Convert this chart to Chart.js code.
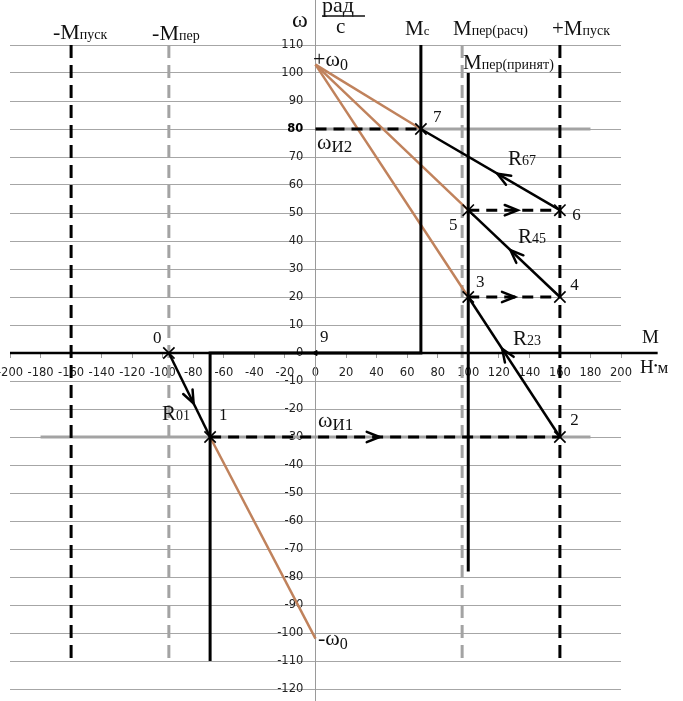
<!DOCTYPE html>
<html lang="ru">
<head>
<meta charset="UTF-8">
<title>Механические характеристики — торможение и реверс</title>
<script src="https://cdn.jsdelivr.net/npm/chart.js"></script>
<style>
  html, body { margin: 0; padding: 0; background: #fff; }
  #wrap { width: 683px; height: 701px; position: relative; }
</style>
</head>
<body>
<div id="wrap"><canvas id="chart"></canvas></div>
<script>
// деления осей
const mTicks = [-200, -180, -160, -140, -120, -100, -80, -60, -40, -20, 0, 20, 40, 60, 80, 100, 120, 140, 160, 180, 200];
const wTicks = [-120, -110, -100, -90, -80, -70, -60, -50, -40, -30, -20, -10, 0, 10, 20, 30, 40, 50, 60, 70, 80, 90, 100, 110];

// характерные значения, Н*м и рад/с
const w0plus = 103, w0minus = -102;
const Mpusk = 160, Mper = 96, MperPrin = 100, Mc = 69;
const wI1 = -30, wI2 = 80;
const limTop = 110, limBottom = -110, prinBottom = -78;
const axisM = [-200, 224];
const axisW = [130, -130];

// точки 0..7
const ptName = ['0', '1', '2', '3', '4', '5', '6', '7'];
const ptM = [-96, -69, 160, 100, 160, 100, 160, 69];
const ptW = [0, -30, -30, 20, 20, 51, 51, 80];

const P = i => ({ x: ptM[i], y: ptW[i] });

const BLACK = '#000';
const BROWN = '#c0825c';
const GRAY = '#a3a3a3';

function seg(points, color, width, dash, extra) {
  return Object.assign({
    data: points,
    showLine: true,
    borderColor: color,
    borderWidth: width,
    borderDash: dash || [],
    pointRadius: 0,
    pointHoverRadius: 0,
    fill: false
  }, extra || {});
}

// порядок: снизу вверх
const layers = [
  // серые линии на уровнях ωИ1, ωИ2
  seg([{ x: -180, y: wI1 }, { x: 180, y: wI1 }], GRAY, 3),
  seg([{ x: 0, y: wI2 }, { x: 180, y: wI2 }], GRAY, 3),
  // ось ω
  seg([{ x: 0, y: axisW[0] }, { x: 0, y: axisW[1] }], '#9a9a9a', 1, null, { clip: false }),
  // ±Mпер (расч)
  seg([{ x: -Mper, y: limTop }, { x: -Mper, y: limBottom }], GRAY, 3, [13, 7]),
  seg([{ x: Mper, y: limTop }, { x: Mper, y: limBottom }], GRAY, 3, [13, 7]),
  // ±Mпуск
  seg([{ x: -Mpusk, y: limTop }, { x: -Mpusk, y: limBottom }], BLACK, 3, [13, 7]),
  seg([{ x: Mpusk, y: limTop }, { x: Mpusk, y: limBottom }], BLACK, 3, [13, 7]),
  // реостатные характеристики
  seg([{ x: 0, y: w0plus }, P(7)], BROWN, 2.5),
  seg([{ x: 0, y: w0plus }, P(5)], BROWN, 2.5),
  seg([{ x: 0, y: w0plus }, P(3)], BROWN, 2.5),
  seg([P(1), { x: 0, y: w0minus }], BROWN, 2.5),
  // Mпер (принят)
  seg([{ x: MperPrin, y: 100 }, { x: MperPrin, y: prinBottom }], BLACK, 3),
  // Mс(ω)
  seg([{ x: -Mc, y: limBottom }, { x: -Mc, y: 0 }, { x: Mc, y: 0 }, { x: Mc, y: limTop }], BLACK, 3),
  // ось M
  seg([{ x: axisM[0], y: 0 }, { x: axisM[1], y: 0 }], BLACK, 2.5, null, { clip: false }),
  // переходы по R
  seg([P(0), P(1)], BLACK, 2.5),
  seg([P(2), P(3)], BLACK, 2.5),
  seg([P(4), P(5)], BLACK, 2.5),
  seg([P(6), P(7)], BLACK, 2.5),
  // переключения ступеней
  seg([P(1), P(2)], BLACK, 3, [11, 7]),
  seg([P(3), P(4)], BLACK, 3, [11, 7]),
  seg([P(5), P(6)], BLACK, 3, [11, 7]),
  seg([{ x: 0, y: wI2 }, P(7)], BLACK, 3, [11, 7]),
  // отметки точек
  {
    data: ptM.map((m, i) => P(i)),
    showLine: false,
    pointStyle: 'crossRot',
    pointRadius: 8,
    pointHoverRadius: 8,
    borderColor: BLACK,
    borderWidth: 1.6
  },
  // точка 9
  {
    data: [{ x: 0, y: 0 }],
    showLine: false,
    pointStyle: 'triangle',
    rotation: -90,
    pointRadius: 3,
    backgroundColor: BLACK,
    borderColor: BLACK,
    borderWidth: 1
  }
];
// Chart.js рисует первый набор поверх остальных
const datasets = layers.slice().reverse();

// стрелки: от точки к точке, доля пути
const arrows = [
  { a: 0, b: 1, f: 0.6 },
  { a: 1, b: 2, f: 0.485 },
  { a: 2, b: 3, f: 0.63 },
  { a: 3, b: 4, f: 0.51 },
  { a: 4, b: 5, f: 0.54 },
  { a: 5, b: 6, f: 0.54 },
  { a: 6, b: 7, f: 0.45 }
];

// подписи: координаты в единицах осей, части текста [текст, размер, сдвиг]
const notes = [
  { m: -171.9, w: 112.1, parts: [['-M', 22, 0], ['пуск', 14, 0]] },
  { m: -107.0, w: 111.8, parts: [['-M', 22, 0], ['пер', 14, 0]] },
  { m: -15.4, w: 116.4, parts: [['ω', 24, 0]] },
  { m: 4.3, w: 121.8, parts: [['рад', 22, 0]] },
  { m: 13.4, w: 114.3, parts: [['с', 21, 0]] },
  { m: 58.6, w: 113.6, parts: [['M', 21, 0], ['с', 13, 0]] },
  { m: 90.0, w: 113.6, parts: [['M', 21, 0], ['пер(расч)', 14, 0]] },
  { m: 154.8, w: 113.6, parts: [['+M', 21, 0], ['пуск', 14, 0]] },
  { m: 96.6, w: 101.4, parts: [['M', 21, 0], ['пер(принят)', 14, 0]] },
  { m: -1.6, w: 102.5, parts: [['+ω', 22, 0], ['0', 16, 4]] },
  { m: 1.0, w: 72.9, parts: [['ω', 22, 0], ['И2', 17, 3]] },
  { m: 1.6, w: -26.4, parts: [['ω', 22, 0], ['И1', 17, 3]] },
  { m: 1.6, w: -104.2, parts: [['-ω', 22, 0], ['0', 16, 4]] },
  { m: 213.8, w: 3.6, parts: [['M', 19, 0]] },
  { m: 212.4, w: -7.1, parts: [['Н', 19, 0], ['•', 11, -4], ['м', 17, 0]] },
  { m: -100.5, w: -23.9, parts: [['R', 21, 0], ['01', 14, 0]] },
  { m: 129.3, w: 2.9, parts: [['R', 21, 0], ['23', 14, 0]] },
  { m: 132.6, w: 39.3, parts: [['R', 21, 0], ['45', 14, 0]] },
  { m: 126.0, w: 67.2, parts: [['R', 21, 0], ['67', 14, 0]] },
  { m: -106.4, w: 3.6, parts: [['0', 17, 0]] },
  { m: -63.2, w: -23.9, parts: [['1', 17, 0]] },
  { m: 166.8, w: -25.7, parts: [['2', 17, 0]] },
  { m: 105.1, w: 23.6, parts: [['3', 17, 0]] },
  { m: 166.8, w: 22.5, parts: [['4', 17, 0]] },
  { m: 87.4, w: 43.9, parts: [['5', 17, 0]] },
  { m: 168.1, w: 47.5, parts: [['6', 17, 0]] },
  { m: 76.9, w: 82.5, parts: [['7', 17, 0]] },
  { m: 2.9, w: 4.0, parts: [['9', 17, 0]] }
];

const extras = {
  id: 'extras',
  afterDatasetsDraw(chart) {
    const { ctx, scales: { x, y } } = chart;
    ctx.save();
    ctx.strokeStyle = BLACK;
    ctx.lineWidth = 2.5;
    ctx.lineCap = 'round';
    arrows.forEach(({ a, b, f }) => {
      const x1 = x.getPixelForValue(ptM[a]), y1 = y.getPixelForValue(ptW[a]);
      const x2 = x.getPixelForValue(ptM[b]), y2 = y.getPixelForValue(ptW[b]);
      const px = x1 + (x2 - x1) * f, py = y1 + (y2 - y1) * f;
      const ang = Math.atan2(y2 - y1, x2 - x1);
      const len = 14, spread = 0.38;
      ctx.beginPath();
      ctx.moveTo(px - len * Math.cos(ang - spread), py - len * Math.sin(ang - spread));
      ctx.lineTo(px, py);
      ctx.lineTo(px - len * Math.cos(ang + spread), py - len * Math.sin(ang + spread));
      ctx.stroke();
    });
    ctx.restore();
  },
  afterDraw(chart) {
    const { ctx, scales: { x, y } } = chart;
    ctx.save();
    ctx.fillStyle = '#111';
    ctx.textAlign = 'left';
    ctx.textBaseline = 'alphabetic';
    notes.forEach(n => {
      let cx = x.getPixelForValue(n.m);
      const cy = y.getPixelForValue(n.w);
      n.parts.forEach(([t, size, dy]) => {
        ctx.font = size + 'px "Liberation Serif", "DejaVu Serif", serif';
        ctx.fillText(t, cx, cy + dy);
        cx += ctx.measureText(t).width;
      });
    });
    // черта дроби рад/с
    ctx.strokeStyle = '#111';
    ctx.lineWidth = 1.5;
    ctx.beginPath();
    ctx.moveTo(x.getPixelForValue(4.3), y.getPixelForValue(120.4));
    ctx.lineTo(x.getPixelForValue(32.4), y.getPixelForValue(120.4));
    ctx.stroke();
    ctx.restore();
  }
};

new Chart(document.getElementById('chart'), {
  type: 'scatter',
  data: { datasets },
  options: {
    responsive: true,
    maintainAspectRatio: false,
    animation: false,
    events: [],
    layout: { padding: { left: 10, right: 62, top: 45, bottom: 12 } },
    plugins: {
      legend: { display: false },
      tooltip: { enabled: false }
    },
    scales: {
      x: {
        type: 'linear',
        min: -200,
        max: 200,
        position: { y: 0 },
        afterBuildTicks: s => { s.ticks = mTicks.map(v => ({ value: v })); },
        afterFit: s => { s.height = 0; s.paddingLeft = 0; s.paddingRight = 0; },
        border: { display: false },
        grid: { drawOnChartArea: false, drawTicks: true, tickLength: 5, color: '#999' },
        ticks: {
          autoSkip: false,
          maxRotation: 0,
          padding: 8,
          color: '#222',
          font: { family: '"DejaVu Sans", Verdana, sans-serif', size: 11.5 }
        }
      },
      y: {
        type: 'linear',
        min: -120,
        max: 110,
        position: { x: -8 },
        afterBuildTicks: s => { s.ticks = wTicks.map(v => ({ value: v })); },
        afterFit: s => { s.width = 0; s.paddingTop = 0; s.paddingBottom = 0; },
        border: { display: false },
        grid: { drawTicks: false, color: '#a6a6a6', lineWidth: 1 },
        ticks: {
          color: c => (c.tick && c.tick.value === 80 ? '#000' : '#222'),
          font: c => ({
            family: '"DejaVu Sans", Verdana, sans-serif',
            size: 11.5,
            weight: c.tick && c.tick.value === 80 ? 'bold' : 'normal'
          })
        }
      }
    }
  },
  plugins: [extras]
});
</script>
</body>
</html>
